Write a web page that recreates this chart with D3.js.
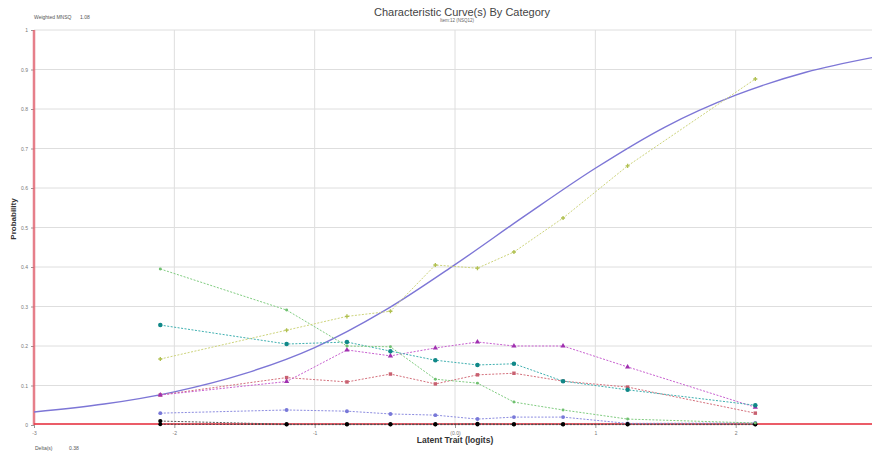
<!DOCTYPE html>
<html>
<head>
<meta charset="utf-8">
<script src="https://cdn.jsdelivr.net/npm/d3@7"></script>
<style>
  body { margin: 0; background: #fff; }
  svg { display: block; font-family: "Liberation Sans", Arial, sans-serif; }
</style>
</head>
<body>
<svg id="chart" width="872" height="452"></svg>
<script>
// observed group locations (logits)
const thetaObs = [-2.10, -1.20, -0.77, -0.46, -0.14, 0.16, 0.42, 0.77, 1.23, 2.14];

const scoreObs   = [0.167, 0.240, 0.275, 0.288, 0.405, 0.397, 0.438, 0.524, 0.656, 0.876];
const greenObs   = [0.395, 0.291, 0.200, 0.198, 0.116, 0.106, 0.058, 0.038, 0.015, 0.005];
const tealObs    = [0.253, 0.205, 0.210, 0.187, 0.164, 0.152, 0.155, 0.111, 0.089, 0.050];
const magentaObs = [0.076, 0.110, 0.190, 0.175, 0.195, 0.210, 0.200, 0.200, 0.147, 0.045];
const pinkObs    = [0.076, 0.120, 0.109, 0.129, 0.104, 0.127, 0.131, 0.111, 0.096, 0.030];
const lavObs     = [0.030, 0.038, 0.035, 0.028, 0.025, 0.015, 0.020, 0.020, 0.004, 0.005];
const blackObs   = [0.010, 0.002, 0.002, 0.002, 0.002, 0.003, 0.002, 0.002, 0.002, 0.002];
const black2Obs  = [0.002, 0.001, 0.001, 0.001, 0.001, 0.001, 0.001, 0.001, 0.001, 0.001];

// model curve, read at every half logit
const thetaModel = [-3, -2.5, -2, -1.5, -1, -0.5, 0, 0.5, 1, 1.5, 2, 2.5, 3];
const probModel  = [0.033, 0.053, 0.084, 0.13, 0.196, 0.29, 0.406, 0.53, 0.65, 0.755, 0.835, 0.893, 0.932];

const xTicks = [-3, -2, -1, 0, 1, 2];
const xTickLabels = ["-3", "-2", "-1", "(0.0)", "1", "2"];
const yTicks = [0, 0.1, 0.2, 0.3, 0.4, 0.5, 0.6, 0.7, 0.8, 0.9, 1];

const svg = d3.select("#chart");
const pLeft = 34, pRight = 876, pTop = 30, pBottom = 425;

const x = d3.scaleLinear().domain([-3, 3]).range([pLeft, pRight]);
const y = d3.scaleLinear().domain([0, 1]).range([pBottom, pTop]);

svg.append("clipPath").attr("id", "plotclip")
  .append("rect").attr("x", pLeft).attr("y", pTop - 2).attr("width", 872 - pLeft).attr("height", pBottom - pTop + 4);

// grid
const grid = svg.append("g");
grid.selectAll(".hg").data(yTicks.filter(d => d > 0)).join("line")
  .attr("x1", pLeft).attr("x2", 872).attr("y1", d => y(d)).attr("y2", d => y(d))
  .attr("stroke", "#dedede").attr("stroke-width", 1);
grid.selectAll(".vg").data(xTicks.filter(d => d > -3)).join("line")
  .attr("x1", d => x(d)).attr("x2", d => x(d)).attr("y1", pTop).attr("y2", pBottom)
  .attr("stroke", "#dedede").attr("stroke-width", 1);

// y axis
const yAxis = svg.append("g").attr("transform", `translate(${pLeft},0)`)
  .call(d3.axisLeft(y).tickValues(yTicks).tickFormat(d => d === 0 ? "0" : d === 1 ? "1" : d3.format(".1f")(d)).tickSize(3));
yAxis.select(".domain").remove();
yAxis.selectAll("line").attr("stroke", "#999");
yAxis.selectAll("text").attr("font-size", 5).attr("fill", "#777");

// x axis
const xAxis = svg.append("g").attr("transform", `translate(0,${pBottom})`)
  .call(d3.axisBottom(x).tickValues(xTicks).tickFormat((d, i) => xTickLabels[i]).tickSize(3));
xAxis.select(".domain").remove();
xAxis.selectAll("line").attr("stroke", "#999");
xAxis.selectAll("text").attr("font-size", 5).attr("fill", "#777");

// red axis lines
svg.append("line").attr("x1", pLeft).attr("x2", pLeft).attr("y1", pTop).attr("y2", pBottom)
  .attr("stroke", "#e0606e").attr("stroke-width", 2.5).attr("opacity", 0.8);
svg.append("line").attr("x1", pLeft).attr("x2", 872).attr("y1", pBottom - 1).attr("y2", pBottom - 1)
  .attr("stroke", "#e8404e").attr("stroke-width", 2).attr("opacity", 0.85);

const plot = svg.append("g").attr("clip-path", "url(#plotclip)");

// model curve
const modelLine = d3.line().x(d => x(d[0])).y(d => y(d[1])).curve(d3.curveMonotoneX);
plot.append("path").datum(d3.zip(thetaModel, probModel))
  .attr("d", modelLine).attr("fill", "none").attr("stroke", "#7d76d6").attr("stroke-width", 1.4);

const series = [
  { vals: lavObs, color: "#8c8ce0", mark: "#7878d8", sym: d3.symbolCircle, size: 12 },
  { vals: black2Obs, color: "#444", mark: "#000", sym: d3.symbolCircle, size: 12 },
  { vals: blackObs, color: "#555", mark: "#000", sym: d3.symbolCircle, size: 14 },
  { vals: pinkObs, color: "#d4707c", mark: "#c86070", sym: d3.symbolSquare, size: 12 },
  { vals: magentaObs, color: "#c860d0", mark: "#a030b0", sym: d3.symbolTriangle, size: 12 },
  { vals: tealObs, color: "#40b0b0", mark: "#108888", sym: d3.symbolCircle, size: 16 },
  { vals: greenObs, color: "#80cc80", mark: "#70c070", sym: d3.symbolCircle, size: 7 },
  { vals: scoreObs, color: "#cdd47c", mark: "#b0c050", sym: d3.symbolCross, size: 9 }
];

const obsLine = d3.line().x(d => x(d[0])).y(d => y(d[1]));
series.forEach(s => {
  const pts = d3.zip(thetaObs, s.vals);
  plot.append("path").datum(pts).attr("d", obsLine)
    .attr("fill", "none").attr("stroke", s.color).attr("stroke-width", 1)
    .attr("stroke-dasharray", "2,1.5");
  plot.selectAll(null).data(pts).join("path")
    .attr("transform", d => `translate(${x(d[0])},${y(d[1])})`)
    .attr("d", d3.symbol().type(s.sym).size(s.size))
    .attr("fill", s.mark);
});

// titles and labels
svg.append("text").attr("x", 462).attr("y", 16).attr("text-anchor", "middle")
  .attr("font-size", 11).attr("fill", "#444").text("Characteristic Curve(s) By Category");
svg.append("text").attr("x", 457).attr("y", 22).attr("text-anchor", "middle")
  .attr("font-size", 4.5).attr("fill", "#666").text("Item:12 (NSQ12)");
svg.append("text").attr("x", 34).attr("y", 19)
  .attr("font-size", 5).attr("fill", "#555").text("Weighted MNSQ");
svg.append("text").attr("x", 80).attr("y", 19)
  .attr("font-size", 5).attr("fill", "#555").text("1.08");
svg.append("text").attr("x", 35).attr("y", 450)
  .attr("font-size", 5).attr("fill", "#555").text("Delta(s)");
svg.append("text").attr("x", 69).attr("y", 450)
  .attr("font-size", 5).attr("fill", "#555").text("0.38");
svg.append("text").attr("x", 455).attr("y", 443).attr("text-anchor", "middle")
  .attr("font-size", 8.5).attr("font-weight", "bold").attr("fill", "#333").text("Latent Trait (logits)");
svg.append("text").attr("transform", "translate(16,219) rotate(-90)").attr("text-anchor", "middle")
  .attr("font-size", 8).attr("font-weight", "bold").attr("fill", "#333").text("Probability");
</script>
</body>
</html>
